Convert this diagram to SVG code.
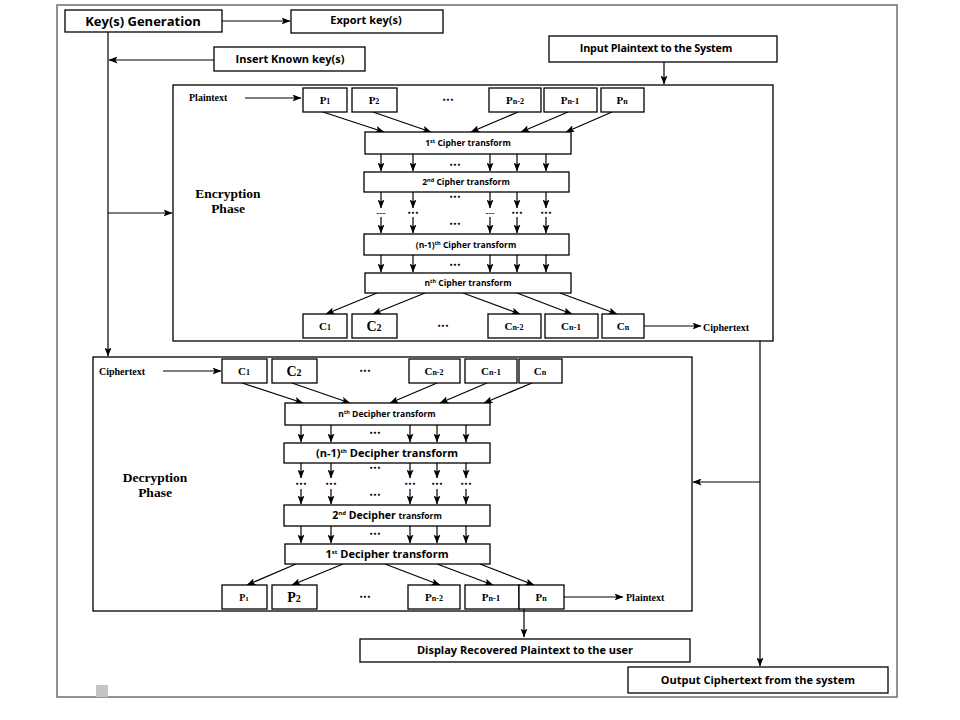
<svg xmlns="http://www.w3.org/2000/svg" width="960" height="720" viewBox="0 0 960 720">
<defs>
<marker id="ah" markerUnits="userSpaceOnUse" markerWidth="9" markerHeight="7" refX="8.5" refY="3.5" orient="auto">
<path d="M0,0 L9,3.5 L0,7 L2,3.5 z" fill="#000"/>
</marker>
<style>
.bx{fill:#fff;stroke:#000;stroke-width:1.3}
.ph{fill:none;stroke:#000;stroke-width:1.3}
.ln{fill:none;stroke:#000;stroke-width:1.2}
.ar{fill:none;stroke:#000;stroke-width:1.2;marker-end:url(#ah)}
.sans{font-family:"Open Sans","Liberation Sans",sans-serif;font-weight:bold;fill:#000}
.ser{font-family:"Liberation Serif","DejaVu Serif",serif;font-weight:bold;fill:#000}
.dots{font-family:"DejaVu Sans",sans-serif;font-weight:bold;font-size:6px;fill:#000}
</style>
</defs>
<rect x="0" y="0" width="960" height="720" fill="#fff"/>
<rect x="57" y="5" width="840" height="692" fill="none" stroke="#777" stroke-width="1.6"/>
<rect x="96" y="685" width="12" height="12" fill="#c4c4c4"/>

<g id="encryption">
<rect class="ph" x="173" y="85" width="600" height="256"/>
<text class="ser" x="228" y="198" font-size="13.5" text-anchor="middle">Encryption</text>
<text class="ser" x="228" y="213" font-size="13.5" text-anchor="middle">Phase</text>
<text class="ser" x="189" y="101" font-size="10">Plaintext</text>
</g>
<g id="decryption">
<rect class="ph" x="93" y="357" width="599" height="254"/>
<text class="ser" x="155" y="482" font-size="13.5" text-anchor="middle">Decryption</text>
<text class="ser" x="155" y="497" font-size="13.5" text-anchor="middle">Phase</text>
<text class="ser" x="99" y="375" font-size="10">Ciphertext</text>
</g>

<g id="connectors">
<line class="ar" x1="222" y1="21" x2="290" y2="21"/>
<line class="ln" x1="108" y1="32" x2="108" y2="60"/>
<line class="ar" x1="214" y1="60" x2="109" y2="60"/>
<line class="ar" x1="108" y1="60" x2="108" y2="356"/>
<line class="ar" x1="108" y1="213" x2="172" y2="213"/>
<line class="ar" x1="664" y1="62" x2="664" y2="84"/>
<line class="ar" x1="245" y1="98" x2="301" y2="98"/>
<line class="ar" x1="323" y1="112" x2="384" y2="132"/>
<line class="ar" x1="373" y1="112" x2="431" y2="132"/>
<line class="ar" x1="518" y1="112" x2="471" y2="132"/>
<line class="ar" x1="568" y1="112" x2="521" y2="132"/>
<line class="ar" x1="612" y1="112" x2="566" y2="132"/>
<line class="ar" x1="381" y1="154" x2="381" y2="171"/>
<line class="ar" x1="413" y1="154" x2="413" y2="171"/>
<line class="ar" x1="490" y1="154" x2="490" y2="171"/>
<line class="ar" x1="517" y1="154" x2="517" y2="171"/>
<line class="ar" x1="546" y1="154" x2="546" y2="171"/>
<line class="ar" x1="381" y1="192" x2="381" y2="208"/>
<line class="ar" x1="413" y1="192" x2="413" y2="208"/>
<line class="ar" x1="490" y1="192" x2="490" y2="208"/>
<line class="ar" x1="517" y1="192" x2="517" y2="208"/>
<line class="ar" x1="546" y1="192" x2="546" y2="208"/>
<line class="ar" x1="381" y1="217" x2="381" y2="233"/>
<line class="ar" x1="413" y1="217" x2="413" y2="233"/>
<line class="ar" x1="490" y1="217" x2="490" y2="233"/>
<line class="ar" x1="517" y1="217" x2="517" y2="233"/>
<line class="ar" x1="546" y1="217" x2="546" y2="233"/>
<line class="ar" x1="381" y1="255" x2="381" y2="272"/>
<line class="ar" x1="413" y1="255" x2="413" y2="272"/>
<line class="ar" x1="490" y1="255" x2="490" y2="272"/>
<line class="ar" x1="517" y1="255" x2="517" y2="272"/>
<line class="ar" x1="546" y1="255" x2="546" y2="272"/>
<line class="ar" x1="377" y1="293" x2="326" y2="314"/>
<line class="ar" x1="425" y1="293" x2="373" y2="314"/>
<line class="ar" x1="463" y1="293" x2="520" y2="314"/>
<line class="ar" x1="517" y1="293" x2="572" y2="314"/>
<line class="ar" x1="560" y1="293" x2="617" y2="314"/>
<line class="ar" x1="644" y1="326" x2="701" y2="326"/>
<line class="ar" x1="760" y1="341" x2="760" y2="666"/>
<line class="ar" x1="760" y1="482" x2="693" y2="482"/>
<line class="ar" x1="163" y1="371" x2="221" y2="371"/>
<line class="ar" x1="242" y1="383" x2="303" y2="403"/>
<line class="ar" x1="292" y1="383" x2="350" y2="403"/>
<line class="ar" x1="437" y1="383" x2="390" y2="403"/>
<line class="ar" x1="487" y1="383" x2="440" y2="403"/>
<line class="ar" x1="532" y1="383" x2="484" y2="403"/>
<line class="ar" x1="301" y1="425" x2="301" y2="442"/>
<line class="ar" x1="331" y1="425" x2="331" y2="442"/>
<line class="ar" x1="410" y1="425" x2="410" y2="442"/>
<line class="ar" x1="437" y1="425" x2="437" y2="442"/>
<line class="ar" x1="466" y1="425" x2="466" y2="442"/>
<line class="ar" x1="301" y1="463" x2="301" y2="478"/>
<line class="ar" x1="331" y1="463" x2="331" y2="478"/>
<line class="ar" x1="410" y1="463" x2="410" y2="478"/>
<line class="ar" x1="437" y1="463" x2="437" y2="478"/>
<line class="ar" x1="466" y1="463" x2="466" y2="478"/>
<line class="ar" x1="301" y1="489" x2="301" y2="504"/>
<line class="ar" x1="331" y1="489" x2="331" y2="504"/>
<line class="ar" x1="410" y1="489" x2="410" y2="504"/>
<line class="ar" x1="437" y1="489" x2="437" y2="504"/>
<line class="ar" x1="466" y1="489" x2="466" y2="504"/>
<line class="ar" x1="301" y1="526" x2="301" y2="543"/>
<line class="ar" x1="331" y1="526" x2="331" y2="543"/>
<line class="ar" x1="410" y1="526" x2="410" y2="543"/>
<line class="ar" x1="437" y1="526" x2="437" y2="543"/>
<line class="ar" x1="466" y1="526" x2="466" y2="543"/>
<line class="ar" x1="296" y1="564" x2="247" y2="585"/>
<line class="ar" x1="343" y1="564" x2="292" y2="585"/>
<line class="ar" x1="385" y1="564" x2="440" y2="585"/>
<line class="ar" x1="437" y1="564" x2="493" y2="585"/>
<line class="ar" x1="480" y1="564" x2="534" y2="585"/>
<line class="ar" x1="564" y1="597" x2="623" y2="597"/>
<line class="ar" x1="524" y1="609" x2="524" y2="637"/>
</g>

<g id="keygen"><rect class="bx" x="65" y="10" width="157" height="22"/><text class="sans" x="143" y="26" font-size="13" text-anchor="middle">Key(s) Generation</text></g>
<g id="export"><rect class="bx" x="291" y="10" width="152" height="23"/><text class="sans" x="366" y="24" font-size="11" text-anchor="middle">Export key(s)</text></g>
<g id="insert"><rect class="bx" x="214" y="47" width="151" height="24"/><text class="sans" x="290" y="63" font-size="11" text-anchor="middle">Insert Known key(s)</text></g>
<g id="input"><rect class="bx" x="549" y="36" width="228" height="26"/><text class="sans" x="656" y="52" font-size="10.8" text-anchor="middle" letter-spacing="-0.2">Input Plaintext to the System</text></g>

<g id="p-in">
<rect class="bx" x="303" y="88" width="44" height="24"/><text class="ser" x="325" y="104" font-size="11" text-anchor="middle">P<tspan font-size="8">1</tspan></text>
<rect class="bx" x="352" y="88" width="45" height="24"/><text class="ser" x="374" y="104" font-size="11" text-anchor="middle">P<tspan font-size="8">2</tspan></text>
<text class="dots" x="448" y="102" text-anchor="middle">•••</text>
<rect class="bx" x="489" y="88" width="52" height="24"/><text class="ser" x="515" y="104" font-size="11" text-anchor="middle">P<tspan font-size="8">n-2</tspan></text>
<rect class="bx" x="544" y="88" width="53" height="24"/><text class="ser" x="570" y="104" font-size="11" text-anchor="middle">P<tspan font-size="8">n</tspan><tspan font-size="9">-1</tspan></text>
<rect class="bx" x="601" y="88" width="43" height="24"/><text class="ser" x="622" y="104" font-size="11" text-anchor="middle">P<tspan font-size="8">n</tspan></text>
</g>
<g id="cipher1"><rect class="bx" x="365" y="132" width="206" height="22"/><text class="sans" x="468" y="146" font-size="8.5" text-anchor="middle">1<tspan font-size="5.5" dy="-3">st</tspan><tspan dy="3"> Cipher transform</tspan></text></g>
<g id="cipher2"><rect class="bx" x="364" y="172" width="205" height="20"/><text class="sans" x="466" y="185" font-size="8.5" text-anchor="middle">2<tspan font-size="5.5" dy="-3">nd</tspan><tspan dy="3"> Cipher transform</tspan></text></g>
<g id="ciphern1"><rect class="bx" x="364" y="234" width="205" height="21"/><text class="sans" x="466" y="248" font-size="8.5" text-anchor="middle">(n-1)<tspan font-size="5.5" dy="-3">th</tspan><tspan dy="3"> Cipher transform</tspan></text></g>
<g id="ciphern"><rect class="bx" x="365" y="273" width="206" height="20"/><text class="sans" x="468" y="286" font-size="8.5" text-anchor="middle">n<tspan font-size="5.5" dy="-3">th</tspan><tspan dy="3"> Cipher transform</tspan></text></g>
<g id="enc-dots">
<text class="dots" x="455" y="167" text-anchor="middle">•••</text>
<text class="dots" x="455" y="199" text-anchor="middle">•••</text>
<text class="dots" x="381" y="215" text-anchor="middle">–––</text>
<text class="dots" x="413" y="215" text-anchor="middle">•••</text>
<text class="dots" x="490" y="215" text-anchor="middle">–––</text>
<text class="dots" x="517" y="215" text-anchor="middle">•••</text>
<text class="dots" x="546" y="215" text-anchor="middle">•••</text>
<text class="dots" x="455" y="226" text-anchor="middle">•••</text>
<text class="dots" x="455" y="267" text-anchor="middle">•••</text>
</g>
<g id="c-out">
<rect class="bx" x="303" y="314" width="44" height="24"/><text class="ser" x="325" y="330" font-size="11" text-anchor="middle">C<tspan font-size="8">1</tspan></text>
<rect class="bx" x="352" y="314" width="45" height="24"/><text class="ser" x="374" y="331" font-size="14" text-anchor="middle">C<tspan font-size="10">2</tspan></text>
<text class="dots" x="443" y="328" text-anchor="middle">•••</text>
<rect class="bx" x="488" y="314" width="53" height="24"/><text class="ser" x="514" y="330" font-size="11" text-anchor="middle">C<tspan font-size="8">n-2</tspan></text>
<rect class="bx" x="545" y="314" width="53" height="24"/><text class="ser" x="571" y="330" font-size="11" text-anchor="middle">C<tspan font-size="8">n</tspan><tspan font-size="9">-1</tspan></text>
<rect class="bx" x="602" y="314" width="42" height="24"/><text class="ser" x="623" y="330" font-size="11" text-anchor="middle">C<tspan font-size="8">n</tspan></text>
<text class="ser" x="703" y="331" font-size="10">Ciphertext</text>
</g>

<g id="c-in">
<rect class="bx" x="222" y="359" width="45" height="24"/><text class="ser" x="244" y="375" font-size="11" text-anchor="middle">C<tspan font-size="8">1</tspan></text>
<rect class="bx" x="272" y="359" width="45" height="24"/><text class="ser" x="294" y="376" font-size="14" text-anchor="middle">C<tspan font-size="10">2</tspan></text>
<text class="dots" x="365" y="373" text-anchor="middle">•••</text>
<rect class="bx" x="409" y="359" width="51" height="24"/><text class="ser" x="434" y="375" font-size="11" text-anchor="middle">C<tspan font-size="8">n-2</tspan></text>
<rect class="bx" x="465" y="359" width="52" height="24"/><text class="ser" x="491" y="375" font-size="11" text-anchor="middle">C<tspan font-size="8">n</tspan><tspan font-size="9">-1</tspan></text>
<rect class="bx" x="519" y="359" width="43" height="24"/><text class="ser" x="540" y="375" font-size="11" text-anchor="middle">C<tspan font-size="8">n</tspan></text>
</g>
<g id="decn"><rect class="bx" x="285" y="403" width="205" height="22"/><text class="sans" x="387" y="417" font-size="8.5" text-anchor="middle">n<tspan font-size="5.5" dy="-3">th</tspan><tspan dy="3"> Decipher transform</tspan></text></g>
<g id="decn1"><rect class="bx" x="284" y="443" width="206" height="20"/><text class="sans" x="387" y="457" font-size="11" text-anchor="middle">(n-1)<tspan font-size="6" dy="-4">th</tspan><tspan dy="4"> Decipher transform</tspan></text></g>
<g id="dec2"><rect class="bx" x="284" y="505" width="206" height="21"/><text class="sans" x="387" y="519" font-size="10.5" text-anchor="middle">2<tspan font-size="6" dy="-4">nd</tspan><tspan dy="4"> Decipher </tspan><tspan font-size="8.5">transform</tspan></text></g>
<g id="dec1"><rect class="bx" x="285" y="544" width="205" height="20"/><text class="sans" x="387" y="558" font-size="11" text-anchor="middle">1<tspan font-size="6" dy="-4">st</tspan><tspan dy="4"> Decipher transform</tspan></text></g>
<g id="dec-dots">
<text class="dots" x="375" y="435" text-anchor="middle">•••</text>
<text class="dots" x="375" y="470" text-anchor="middle">•••</text>
<text class="dots" x="301" y="486" text-anchor="middle">•••</text>
<text class="dots" x="331" y="486" text-anchor="middle">•••</text>
<text class="dots" x="410" y="486" text-anchor="middle">•••</text>
<text class="dots" x="437" y="486" text-anchor="middle">•••</text>
<text class="dots" x="466" y="486" text-anchor="middle">•••</text>
<text class="dots" x="375" y="497" text-anchor="middle">•••</text>
<text class="dots" x="375" y="536" text-anchor="middle">•••</text>
</g>
<g id="p-out">
<rect class="bx" x="222" y="585" width="45" height="24"/><text class="ser" x="244" y="601" font-size="10" text-anchor="middle">P<tspan font-size="7">1</tspan></text>
<rect class="bx" x="272" y="585" width="45" height="24"/><text class="ser" x="294" y="602" font-size="14" text-anchor="middle">P<tspan font-size="10">2</tspan></text>
<text class="dots" x="365" y="599" text-anchor="middle">•••</text>
<rect class="bx" x="408" y="585" width="52" height="24"/><text class="ser" x="434" y="601" font-size="11" text-anchor="middle">P<tspan font-size="8">n-2</tspan></text>
<rect class="bx" x="465" y="585" width="54" height="24"/><text class="ser" x="491" y="601" font-size="11" text-anchor="middle">P<tspan font-size="8">n</tspan><tspan font-size="9">-1</tspan></text>
<rect class="bx" x="519" y="585" width="45" height="24"/><text class="ser" x="541" y="601" font-size="11" text-anchor="middle">P<tspan font-size="8">n</tspan></text>
<text class="ser" x="626" y="601" font-size="10">Plaintext</text>
</g>

<g id="display"><rect class="bx" x="360" y="639" width="330" height="23"/><text class="sans" x="525" y="654" font-size="11" text-anchor="middle">Display Recovered Plaintext to the user</text></g>
<g id="output"><rect class="bx" x="628" y="667" width="260" height="26"/><text class="sans" x="758" y="684" font-size="11" text-anchor="middle">Output Ciphertext from the system</text></g>
</svg>
